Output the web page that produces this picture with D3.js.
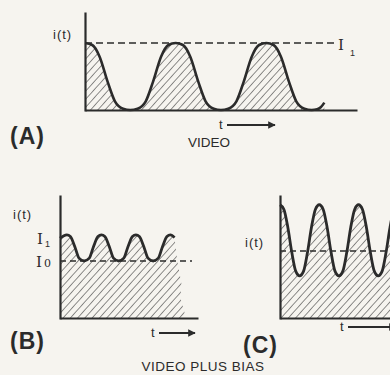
<!DOCTYPE html>
<html><head><meta charset="utf-8">
<script src="https://cdn.jsdelivr.net/npm/d3@7/dist/d3.min.js"></script>
<style>
html,body{margin:0;padding:0;background:#f6f4ef;}
svg{display:block;}
text{fill:#2b2b2b;}
</style></head>
<body>
<script>
// ---------- data ----------
// Panel A: video signal (t in arbitrary units, i normalised so I1 = 1)
const aT = [0,0.8,1.6,2.5,3.3,4.2,5,5.8,6.7,7.5,8.4,9.2,10,10.8,11.6,12.5,13.3,14.2,15,15.8,16.7,17.5,18.4,19.2,20,20.8,21.6,22.5,23.3,24.2,25,25.6,26.0,26.4];
const aI = [1,0.97,0.8,0.42,0.13,0.02,0,0.02,0.13,0.42,0.8,0.97,1,0.97,0.8,0.42,0.13,0.02,0,0.02,0.13,0.42,0.8,0.97,1,0.97,0.8,0.42,0.13,0.02,0,0.01,0.04,0.11];
// Panel B: video plus bias (I0 = 1)
const bT = [0,1,2,3,4.3,5.5,7,8.5,9.7,11,12,13,14.3,15.5,17,18.5,19.7,21,22,23,24.3,25.5,27,28.5,29.7,31,32,33.2];
const bI = [1.40,1.44,1.46,1.43,1.25,1.05,1.0,1.05,1.25,1.43,1.46,1.43,1.25,1.05,1.0,1.05,1.25,1.43,1.46,1.43,1.25,1.05,1.0,1.05,1.25,1.43,1.46,1.41];
const bEdgeT = [33.2,33.6,34.0,35.2,34.9,36.0,36.5];   // ragged right edge of the shading
const bEdgeI = [1.41,1.2,1.0,0.6,0.35,0.12,0];
// Panel C: larger video signal around I0 (I0 = 1)
const cT = [0,1,2,3,4,5,6,7,8,9,10,11,12,13,14,15,16,17,18,19,20,21,22,23,24,25,26,27,28,29,30];
const cI = [1.69,1.62,1.35,0.98,0.7,0.63,0.7,0.98,1.35,1.62,1.69,1.62,1.35,0.98,0.7,0.63,0.7,0.98,1.35,1.62,1.69,1.62,1.35,0.98,0.7,0.63,0.7,0.98,1.35,1.62,1.69];
const levelA = 1, levelB0 = 1, levelB1 = 1.46, levelC0 = 1;

const W = 390, H = 375, ink = "#2b2b2b";
const svg = d3.select("body").append("svg").attr("width", W).attr("height", H);
svg.append("rect").attr("width", W).attr("height", H).attr("fill", "#f6f4ef");

const defs = svg.append("defs");
const pat = defs.append("pattern").attr("id", "hatch").attr("patternUnits", "userSpaceOnUse")
  .attr("width", 5.4).attr("height", 5.4).attr("patternTransform", "rotate(42)");
pat.append("line").attr("x1", 0).attr("y1", -1).attr("x2", 0).attr("y2", 7)
  .attr("stroke", "#3f3f3f").attr("stroke-width", 1.15);
defs.append("marker").attr("id", "arr").attr("viewBox", "0 0 10 10").attr("refX", 9).attr("refY", 5)
  .attr("markerWidth", 4.2).attr("markerHeight", 4.2).attr("orient", "auto")
  .append("path").attr("d", "M0,0L10,5L0,10Z").attr("fill", ink);

function axes(g, x, y, x0, x1, yTop) {
  const ax = d3.axisBottom(d3.scaleLinear().range([x(0), x1])).ticks(0).tickSizeOuter(0);
  g.append("g").attr("transform", `translate(0,${y(0)})`).call(ax)
    .select(".domain").attr("stroke", ink).attr("stroke-width", 2.2);
  const ay = d3.axisLeft(d3.scaleLinear().range([y(0) + 1, yTop])).ticks(0).tickSizeOuter(0);
  g.append("g").attr("transform", `translate(${x(0)},0)`).call(ay)
    .select(".domain").attr("stroke", ink).attr("stroke-width", 2.2);
}
function tArrow(x0, y0, len) {
  svg.append("text").attr("x", x0).attr("y", y0 + 4).attr("font-family", "Liberation Sans, Arial")
    .attr("font-size", 13).text("t");
  svg.append("line").attr("x1", x0 + 8).attr("x2", x0 + 8 + len).attr("y1", y0).attr("y2", y0)
    .attr("stroke", ink).attr("stroke-width", 1.8).attr("marker-end", "url(#arr)");
}
function lbl(x, y, s, size, opts = {}) {
  return svg.append("text").attr("x", x).attr("y", y).attr("font-size", size)
    .attr("font-family", opts.family || "Liberation Sans, Arial")
    .attr("font-weight", opts.weight || "normal")
    .attr("letter-spacing", opts.ls || 0)
    .attr("text-anchor", opts.anchor || "start").text(s);
}

// ---------- Panel A ----------
{
  const x = d3.scaleLinear().domain([0, 30]).range([85, 357]);
  const y = d3.scaleLinear().domain([0, 1]).range([110, 43]);
  const g = svg.append("g");
  const pts = aT.map((t, k) => [t, aI[k]]);
  g.append("path").datum(pts).attr("fill", "url(#hatch)")
    .attr("d", d3.area().x(d => x(d[0])).y0(y(0)).y1(d => y(d[1])).curve(d3.curveMonotoneX));
  g.append("line").attr("x1", x(0)).attr("x2", 336).attr("y1", y(levelA)).attr("y2", y(levelA))
    .attr("stroke", ink).attr("stroke-width", 1.5).attr("stroke-dasharray", "7,4");
  g.append("path").datum(pts).attr("fill", "none").attr("stroke", ink).attr("stroke-width", 2.6)
    .attr("d", d3.line().x(d => x(d[0])).y(d => y(d[1])).curve(d3.curveMonotoneX));
  axes(g, x, y, 85, 357, 12);
  lbl(53, 39, "i(t)", 13, {ls: 1});
  lbl(338, 50, "I", 15, {family: "DejaVu Serif, Liberation Serif"});
  lbl(350, 56, "1", 9);
  lbl(10, 144, "(A)", 23, {weight: "bold", ls: 1});
  tArrow(219, 125, 48);
  lbl(209, 147, "VIDEO", 13.5, {anchor: "middle"});
}

// ---------- Panel B ----------
{
  const x = d3.scaleLinear().domain([0, 40]).range([60, 198]);
  const y = d3.scaleLinear().domain([0, 1]).range([318, 261]);
  const g = svg.append("g");
  const pts = bT.map((t, k) => [t, bI[k]]);
  const edge = bEdgeT.map((t, k) => [t, bEdgeI[k]]);
  const top = d3.line().x(d => x(d[0])).y(d => y(d[1])).curve(d3.curveMonotoneX)(pts);
  const edgeP = edge.slice(1).map(d => `L${x(d[0])},${y(d[1])}`).join("");
  g.append("path").attr("fill", "url(#hatch)")
    .attr("d", top + edgeP + `L${x(0)},${y(0)}Z`);
  g.append("line").attr("x1", x(0)).attr("x2", 192).attr("y1", y(levelB0)).attr("y2", y(levelB0))
    .attr("stroke", ink).attr("stroke-width", 1.4).attr("stroke-dasharray", "6,4");
  g.append("path").attr("fill", "none").attr("stroke", ink).attr("stroke-width", 2.8).attr("d", top);
  axes(g, x, y, 60, 198, 195);
  lbl(13, 219, "i(t)", 13, {ls: 1});
  lbl(37, 244, "I", 15, {family: "DejaVu Serif, Liberation Serif"});
  lbl(45, 247, "1", 9);
  lbl(36, 267, "I", 15, {family: "DejaVu Serif, Liberation Serif"});
  lbl(44, 267, "0", 11, {family: "DejaVu Serif, Liberation Serif"});
  lbl(10, 349, "(B)", 23, {weight: "bold", ls: 1});
  tArrow(151, 333, 36);
  lbl(203, 371, "VIDEO PLUS BIAS", 13.5, {anchor: "middle", ls: 0.5});
}

// ---------- Panel C ----------
{
  const x = d3.scaleLinear().domain([0, 28]).range([280, 390]);
  const y = d3.scaleLinear().domain([0, 1]).range([318, 251]);
  const g = svg.append("g");
  const pts = cT.map((t, k) => [t, cI[k]]);
  g.append("path").datum(pts).attr("fill", "url(#hatch)")
    .attr("d", d3.area().x(d => x(d[0])).y0(y(0)).y1(d => y(d[1])).curve(d3.curveMonotoneX));
  g.append("line").attr("x1", x(0)).attr("x2", 392).attr("y1", y(levelC0)).attr("y2", y(levelC0))
    .attr("stroke", ink).attr("stroke-width", 1.3).attr("stroke-dasharray", "6,4");
  g.append("path").datum(pts).attr("fill", "none").attr("stroke", ink).attr("stroke-width", 2.8)
    .attr("d", d3.line().x(d => x(d[0])).y(d => y(d[1])).curve(d3.curveMonotoneX));
  axes(g, x, y, 280, 392, 195);
  lbl(245, 247, "i(t)", 13, {ls: 1});
  lbl(243, 353, "(C)", 23, {weight: "bold", ls: 1});
  tArrow(340, 327, 48);
}
</script>
</body></html>
